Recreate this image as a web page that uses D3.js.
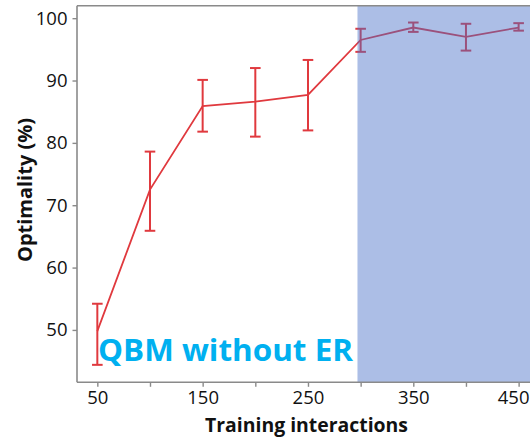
<!DOCTYPE html>
<html>
<head>
<meta charset="utf-8">
<script src="https://cdn.jsdelivr.net/npm/d3@7"></script>
<style>
  html, body { margin: 0; padding: 0; background: #fff; }
  svg { display: block; }
</style>
</head>
<body>
<svg id="chart" width="530" height="440"></svg>
<script>
// Training interactions and the optimality reached, with error-bar bounds
const interactions = [50, 100, 150, 200, 250, 300, 350, 400, 450];
const optimality   = [49.8, 72.5, 85.9, 86.6, 87.7, 96.5, 98.5, 97.0, 98.5];
const upperBound   = [54.2, 78.6, 90.1, 92.0, 93.3, 98.3, 99.3, 99.1, 99.2];
const lowerBound   = [44.4, 65.9, 81.8, 81.0, 82.0, 94.6, 97.8, 94.8, 98.0];
const xTickValues  = [50, 100, 150, 200, 250, 300, 350, 400, 450];
const xTickLabels  = ["50", "", "150", "", "250", "", "350", "", "450"];
const yTickValues  = [50, 60, 70, 80, 90, 100];
const shadedRange  = [297, 461];
const annotation   = "QBM without ER";

const svg = d3.select("#chart");
const W = 530;
const plot = { left: 77, top: 5.7, bottom: 382.3, right: 530 };

const x = d3.scaleLinear().domain([30.7, 460.8]).range([plot.left, plot.right]);
const y = d3.scaleLinear().domain([41.6, 102.0]).range([plot.bottom, plot.top]);

const red = "#e0393e";
const axisGrey = "#8a8a8a";

const data = interactions.map((v, i) => ({
  x: v, y: optimality[i], hi: upperBound[i], lo: lowerBound[i]
}));

// Mean line
svg.append("path")
  .datum(data)
  .attr("fill", "none")
  .attr("stroke", red)
  .attr("stroke-width", 1.8)
  .attr("d", d3.line().x(d => x(d.x)).y(d => y(d.y)));

// Error bars
const capHalf = 5.3;
const eb = svg.append("g").attr("stroke", red).attr("stroke-width", 2).attr("fill", "none");
data.forEach(d => {
  eb.append("line").attr("x1", x(d.x)).attr("x2", x(d.x)).attr("y1", y(d.lo)).attr("y2", y(d.hi));
  eb.append("line").attr("x1", x(d.x) - capHalf).attr("x2", x(d.x) + capHalf).attr("y1", y(d.hi)).attr("y2", y(d.hi));
  eb.append("line").attr("x1", x(d.x) - capHalf).attr("x2", x(d.x) + capHalf).attr("y1", y(d.lo)).attr("y2", y(d.lo));
});

// Translucent shaded region over the later interactions
svg.append("rect")
  .attr("x", x(shadedRange[0]))
  .attr("y", plot.top)
  .attr("width", x(shadedRange[1]) - x(shadedRange[0]))
  .attr("height", plot.bottom - plot.top)
  .attr("fill", "rgb(70,110,200)")
  .attr("fill-opacity", 0.45);

// Frame: top and left edges
svg.append("line")
  .attr("x1", plot.left).attr("x2", W).attr("y1", plot.top).attr("y2", plot.top)
  .attr("stroke", axisGrey).attr("stroke-width", 1.6);

// Y axis
const yAxis = svg.append("g")
  .attr("transform", `translate(${plot.left},0)`)
  .call(d3.axisLeft(y).tickValues(yTickValues).tickSize(4.5).tickPadding(5));
yAxis.select(".domain").attr("stroke", axisGrey).attr("stroke-width", 1.6)
  .attr("d", `M0,${plot.top}V${plot.bottom}`);
yAxis.selectAll(".tick line").attr("stroke", axisGrey).attr("stroke-width", 1.4);
yAxis.selectAll(".tick text")
  .attr("font-family", "'Open Sans', sans-serif")
  .attr("font-size", 18.5)
  .attr("fill", "#111");

// X axis
const xAxis = svg.append("g")
  .attr("transform", `translate(0,${plot.bottom})`)
  .call(d3.axisBottom(x).tickValues(xTickValues)
    .tickFormat((d, i) => xTickLabels[i]).tickSize(4.5).tickPadding(4));
xAxis.select(".domain").attr("stroke", axisGrey).attr("stroke-width", 1.6)
  .attr("d", `M${plot.left},0H${W}`);
xAxis.selectAll(".tick line").attr("stroke", axisGrey).attr("stroke-width", 1.4);
xAxis.selectAll(".tick text")
  .attr("font-family", "'Open Sans', sans-serif")
  .attr("font-size", 18.5)
  .attr("fill", "#111");
// keep the last label inside the canvas
xAxis.selectAll(".tick text").filter(d => d === 450)
  .attr("text-anchor", "end").attr("x", W - 1 - x(450) + 0);

// Axis titles
svg.append("text")
  .attr("x", 306.5).attr("y", 431.5)
  .attr("text-anchor", "middle")
  .attr("font-family", "'Open Sans', sans-serif")
  .attr("font-weight", 700)
  .attr("font-size", 19)
  .attr("textLength", 203).attr("lengthAdjust", "spacingAndGlyphs")
  .attr("fill", "#111")
  .text("Training interactions");

svg.append("text")
  .attr("transform", "translate(32,190) rotate(-90)")
  .attr("text-anchor", "middle")
  .attr("font-family", "'Open Sans', sans-serif")
  .attr("font-weight", 700)
  .attr("font-size", 19)
  .attr("textLength", 144).attr("lengthAdjust", "spacingAndGlyphs")
  .attr("fill", "#111")
  .text("Optimality (%)");

// Annotation
svg.append("text")
  .attr("x", 98).attr("y", 360.5)
  .attr("font-family", "'Open Sans', sans-serif")
  .attr("font-weight", 700)
  .attr("font-size", 31)
  .attr("textLength", 255).attr("lengthAdjust", "spacingAndGlyphs")
  .attr("fill", "#00b0f0")
  .text(annotation);
</script>
</body>
</html>
